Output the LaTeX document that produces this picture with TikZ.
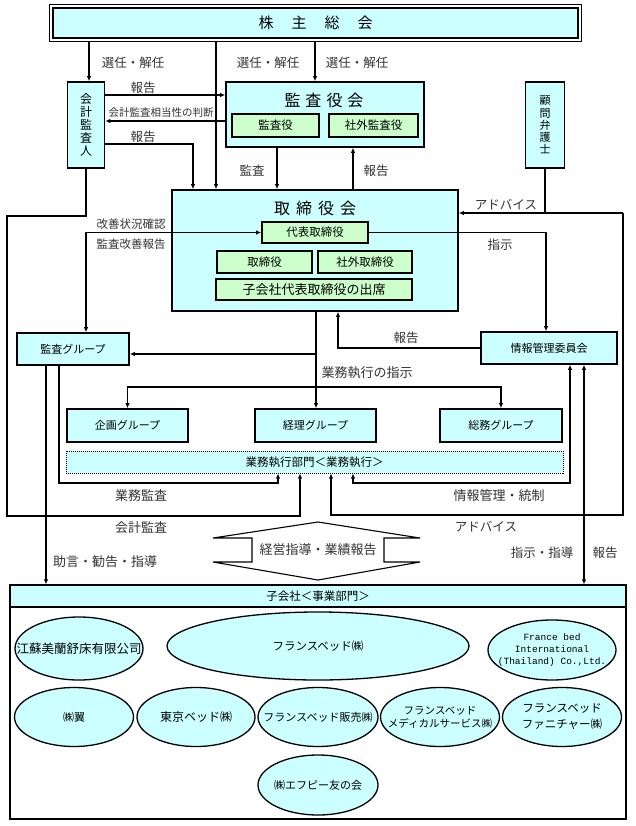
\documentclass[tikz,border=0pt]{standalone}
\usepackage{fontspec}
\setmainfont{Noto Sans CJK JP}
\newfontfamily\monof{Liberation Mono}
\usetikzlibrary{arrows.meta,shapes.geometric,calc}
\definecolor{cy}{HTML}{CCFFFF}
\definecolor{gr}{HTML}{CCFFCC}
\tikzset{
 sz/.style 2 args={minimum width=#1, minimum height=#2},
 box/.style={draw, line width=1.6pt, fill=cy, inner sep=0pt, align=center, font=\fontsize{11}{13}\selectfont},
 gbox/.style={draw, line width=1.3pt, fill=gr, inner sep=0pt, align=center, font=\fontsize{11.5}{13}\selectfont},
 ell/.style={ellipse, draw, line width=1.3pt, fill=cy, inner sep=0pt},
 etext/.style={inner sep=0pt, align=center, font=\fontsize{11.5}{13}\selectfont},
 conn/.style={line width=1.1pt},
 arr/.style={conn, -{Latex[length=5pt,width=4.5pt]}},
 darr/.style={conn, {Latex[length=5pt,width=4.5pt]}-{Latex[length=5pt,width=4.5pt]}},
 lab/.style={font=\fontsize{12.5}{14}\selectfont, text=black!80, inner sep=0pt},
 slab/.style={font=\fontsize{11.5}{13}\selectfont, text=black!80, inner sep=0pt},
}
\begin{document}
\begin{tikzpicture}[x=1pt,y=-1pt]
\path[use as bounding box, fill=white] (0,0) rectangle (636,826);

% ---------- top boxes
\node[box, sz={525pt}{30pt}, font=\fontsize{15}{15}\selectfont] (kabu) at (315.5,23) {株\hspace{18pt}主\hspace{18pt}総\hspace{18pt}会};
\draw[line width=0.8pt] ($(kabu.north west)+(-3,-3)$) rectangle ($(kabu.south east)+(3,3)$);

\node[box, sz={37pt}{86pt}, font=\fontsize{12}{13}\selectfont] (kaikei) at (86,125) {会\\計\\監\\査\\人};

\node[box, sz={198pt}{65pt}] (kansa) at (325,114.5) {};
\node[font=\fontsize{16}{16}\selectfont, inner sep=0pt] (kansaT) at (324,100) {監\hspace{5pt}査\hspace{5pt}役\hspace{5pt}会};
\node[gbox, sz={87pt}{23pt}] (kansayaku) at (275.5,125.5) {監査役};
\node[gbox, sz={89pt}{23pt}] (shagaik) at (373.5,125.5) {社外監査役};

\node[box, sz={39pt}{86pt}, font=\fontsize{11}{12.2}\selectfont] (komon) at (545,125) {顧\\問\\弁\\護\\士};

% ---------- board
\node[box, sz={286pt}{121pt}] (tori) at (315,250.5) {};
\node[font=\fontsize{16}{16}\selectfont, inner sep=0pt] (toriT) at (315,208) {取\hspace{6pt}締\hspace{6pt}役\hspace{6pt}会};
\node[gbox, line width=1.8pt, sz={106pt}{21pt}] (daihyo) at (315,232.5) {代表取締役};
\node[gbox, sz={95pt}{22pt}] (torishi) at (264.5,262) {取締役};
\node[gbox, sz={94pt}{22pt}] (shagait) at (365,262) {社外取締役};
\node[gbox, sz={196pt}{21pt}, font=\fontsize{13}{14}\selectfont] (kogaisha) at (314,289.5) {子会社代表取締役の出席};

% ---------- groups
\node[box, sz={112pt}{32pt}] (kansaG) at (73,349) {監査グループ};
\node[box, sz={136pt}{32pt}] (joho) at (549,348) {情報管理委員会};
\node[box, sz={121pt}{33pt}] (kikaku) at (127.5,425.5) {企画グループ};
\node[box, sz={121pt}{33pt}] (keiri) at (315.5,425.5) {経理グループ};
\node[box, sz={122pt}{33pt}] (somu) at (501,425.5) {総務グループ};
\node[draw, densely dotted, line width=1pt, fill=cy, inner sep=0pt, sz={497pt}{22pt}, font=\fontsize{11.5}{13}\selectfont] (gyomu) at (314.5,462) {業務執行部門＜業務執行＞};

% ---------- subsidiaries
\node[draw, line width=1.3pt, fill=white, sz={616pt}{234pt}] (kog) at (318,702) {};
\node[draw, line width=1.3pt, fill=cy, inner sep=0pt, sz={616pt}{22pt}, font=\fontsize{11.5}{13}\selectfont] (kogh) at (318,596) {子会社＜事業部門＞};

\node[ell, sz={128pt}{63pt}] (e1) at (79,648.5) {};
\node[etext, font=\fontsize{12.5}{14}\selectfont] at (e1) {江蘇美蘭舒床有限公司};
\node[ell, sz={302pt}{68pt}] (e2) at (318,646) {};
\node[etext] at (e2) {フランスベッド㈱};
\node[ell, sz={128pt}{60pt}] (e3) at (552,650) {};
\node[etext, font=\monof\fontsize{9.5}{12}\selectfont] at (e3) {France bed\\International\\(Thailand) Co.,Ltd.};
\node[ell, sz={119pt}{59pt}] (e4) at (74,717) {};
\node[etext, font=\fontsize{11}{13}\selectfont] at (e4) {㈱翼};
\node[ell, sz={118pt}{59pt}] (e5) at (196,717) {};
\node[etext, font=\fontsize{12}{13}\selectfont] at (e5) {東京ベッド㈱};
\node[ell, sz={120pt}{59pt}] (e6) at (318,717) {};
\node[etext, font=\fontsize{11}{13}\selectfont] at (e6) {フランスベッド販売㈱};
\node[ell, sz={119pt}{59pt}] (e7) at (440,717) {};
\node[etext, font=\fontsize{10.5}{13}\selectfont] at (e7) {フランスベッド\\メディカルサービス㈱};
\node[ell, sz={119pt}{59pt}] (e8) at (562,717) {};
\node[etext, font=\fontsize{11.5}{16}\selectfont] at (e8) {フランスベッド\\ファニチャー㈱};
\node[ell, sz={120pt}{60pt}] (e9) at (318,785) {};
\node[etext, font=\fontsize{11}{13}\selectfont] at (e9) {㈱エフピー友の会};

% ---------- connectors: shareholders
\draw[arr] ($(kabu.south -| 89,0)+(0,3)$) -- (kaikei.north -| 89,0);
\draw[arr] ($(kabu.south -| 216,0)+(0,3)$) -- (tori.north -| 216,0);
\draw[arr] ($(kabu.south -| 315,0)+(0,3)$) -- (kansa.north -| 315,0);
\node[lab] at (133,63) {選任・解任};
\node[lab] at (268,63) {選任・解任};
\node[lab] at (357,63) {選任・解任};

% auditor <-> audit board
\draw[arr] (kaikei.east |- 0,95) -- (kansa.west |- 0,95);
\node[lab] at (143,88) {報告};
\draw[arr] (kansa.west |- 0,121) -- (kaikei.east |- 0,121);
\node[lab, font=\fontsize{10.5}{12}\selectfont] at (161,113) {会計監査相当性の判断};
\draw[arr] (kaikei.east |- 0,144) -- (193,144) -- (tori.north -| 193,0);
\node[lab] at (143,137) {報告};

% audit board <-> board
\draw[arr] (kansa.south -| 277,0) -- (tori.north -| 277,0);
\node[lab] at (252,171) {監査};
\draw[arr] (tori.north -| 353,0) -- (kansa.south -| 353,0);
\node[lab] at (376,171) {報告};

% legal advisor
\coordinate (advR) at (623,213);
\draw[conn] (komon.south) -- (komon.south |- advR);
\draw[arr] (advR) -- (tori.east |- advR);
\draw[arr] (advR) -- (623,515) -| (gyomu.south -| 331,0);
\node[lab] at (506,205) {アドバイス};
\node[lab] at (486,527) {アドバイス};

% improvement
\draw[darr] (daihyo.west) -- (86,232.5) -- (kansaG.north -| 86,0);
\node[slab] at (131,224) {改善状況確認};
\node[slab] at (131,244) {監査改善報告};

% instruction to info committee
\draw[arr] (daihyo.east) -- (546,232.5) -- (joho.north -| 546,0);
\node[lab] at (500,245) {指示};

% board -> groups
\draw[arr] (tori.south -| 316,0) -- (keiri.north -| 316,0);
\draw[arr] (316,354) -- (kansaG.east |- 0,354);
\draw[arr] (316,387) -| (kikaku.north);
\draw[arr] (316,387) -| (somu.north);
\node[lab, font=\fontsize{13}{14}\selectfont] at (367,373) {業務執行の指示};

% info committee report
\draw[arr] (joho.west |- 0,348) -- (338,348) -- (tori.south -| 338,0);
\node[lab] at (406,338) {報告};

% audit group
\draw[arr] (kansaG.south -| 59,0) -- (59,483) -| (gyomu.south -| 278,0);
\node[lab, font=\fontsize{13}{14}\selectfont] at (141,496) {業務監査};
\draw[arr] (kansaG.south -| 46,0) -- (kog.north -| 46,0);
\node[lab, font=\fontsize{13}{14}\selectfont] at (105,562) {助言・勧告・指導};

% accounting audit
\draw[arr] (kaikei.south) -- (86,216) -- (7,216) -- (7,516) -| (gyomu.south -| 300,0);
\node[lab, font=\fontsize{13}{14}\selectfont] at (141,528) {会計監査};

% info control
\draw[darr] (joho.south -| 570,0) -- (570,483) -| (gyomu.south -| 353,0);
\node[lab, font=\fontsize{13}{14}\selectfont] at (499,496) {情報管理・統制};

% info committee <-> subsidiaries
\draw[darr] (joho.south -| 584,0) -- (kog.north -| 584,0);
\node[lab] at (542,553) {指示・指導};
\node[lab] at (605,553) {報告};

% big double arrow
\draw[line width=1.1pt, fill=white] (318,522) -- (420,538) -- (384,538) -- (384,562) -- (420,562) -- (318,580) -- (213,562) -- (252,562) -- (252,538) -- (213,538) -- cycle;
\node[lab, font=\fontsize{13}{14}\selectfont] (keiei) at (318,550) {経営指導・業績報告};
\end{tikzpicture}
\end{document}
